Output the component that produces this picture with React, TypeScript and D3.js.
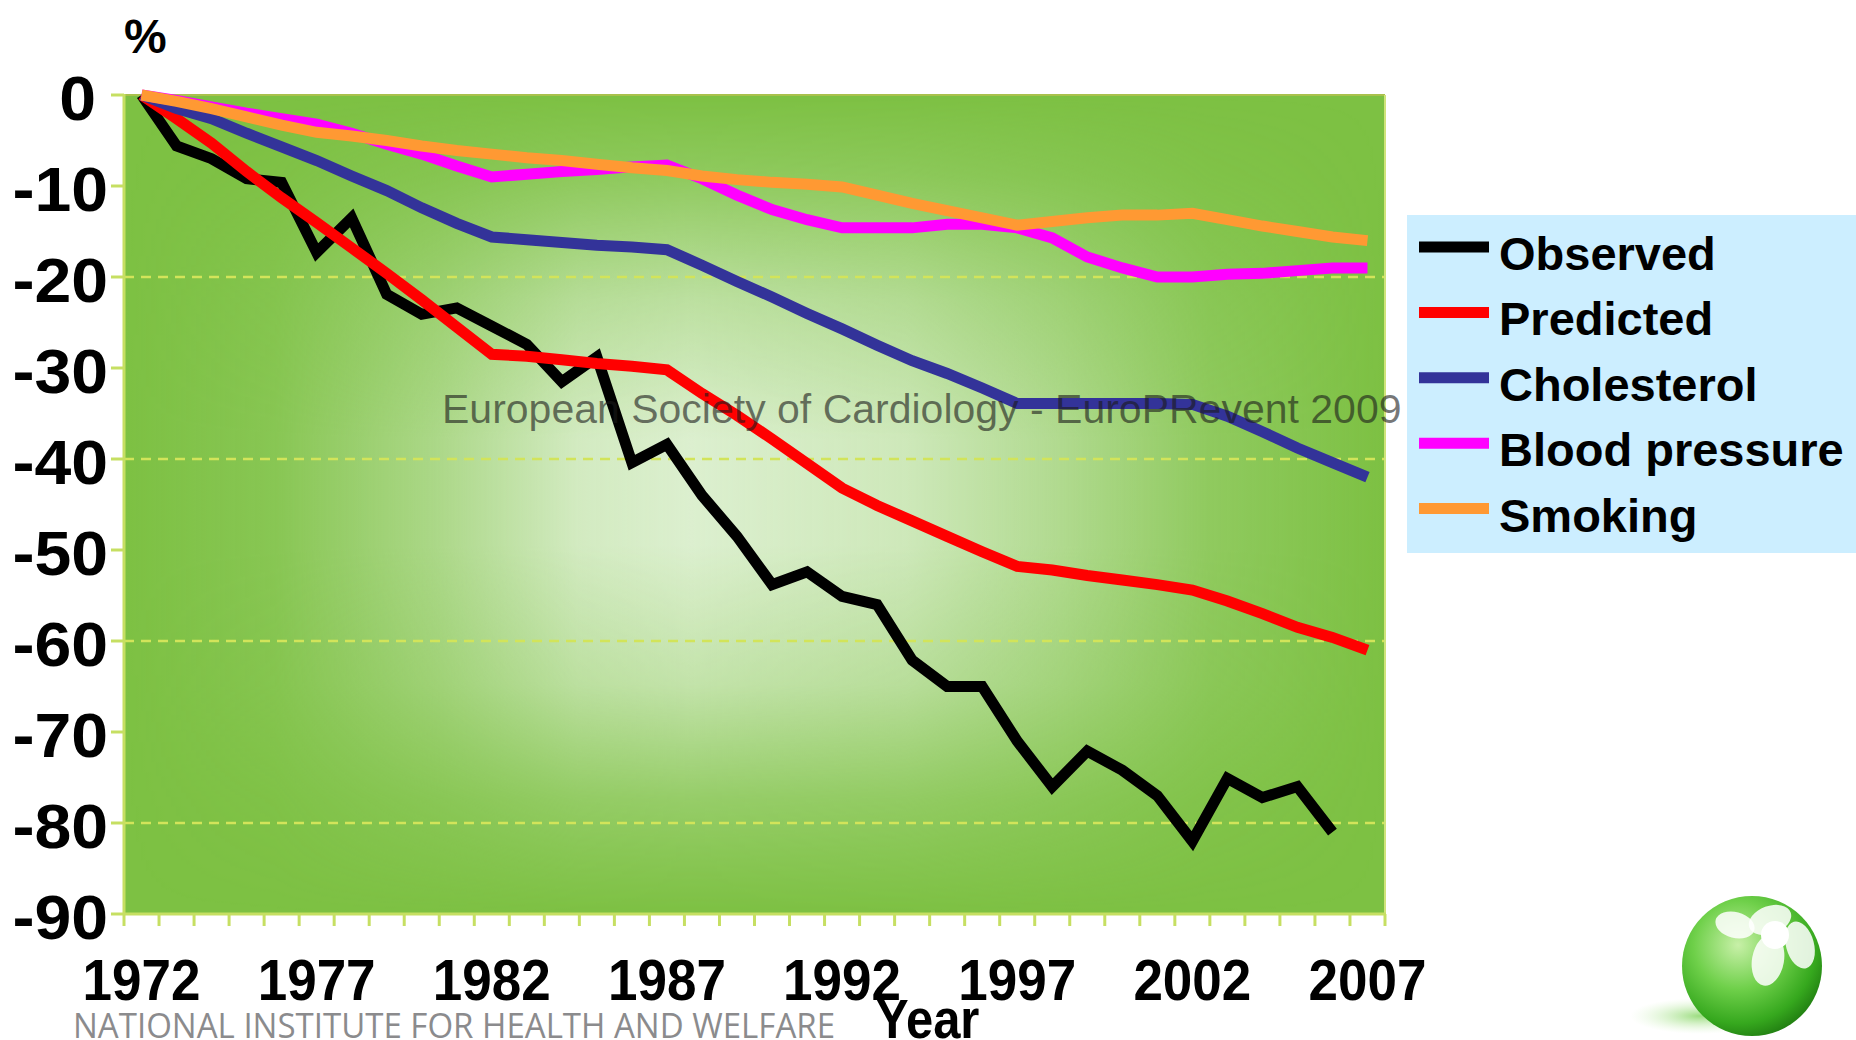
import React from "react";
import * as d3 from "d3";

const years: number[] = d3.range(1972, 2008);
const xTickYears: number[] = [1972, 1977, 1982, 1987, 1992, 1997, 2002, 2007];
const yTicks: number[] = [0, -10, -20, -30, -40, -50, -60, -70, -80, -90];
const gridTicks: number[] = [-20, -40, -60, -80];

const observed: (number | null)[] = [0, -5.6, -7.0, -9.2, -9.6, -17.3, -13.5, -21.9, -24.1, -23.4, -25.4, -27.4, -31.5, -28.8, -40.4, -38.4, -44.0, -48.5, -53.8, -52.4, -55.1, -56.0, -62.1, -65.0, -65.0, -71.0, -76.0, -72.1, -74.2, -77.0, -82.0, -75.1, -77.2, -76.0, -81.0, null];
const predicted: number[] = [0, -2.6, -5.3, -8.4, -11.3, -14.0, -16.8, -19.6, -22.5, -25.5, -28.5, -28.7, -29.1, -29.5, -29.8, -30.2, -32.8, -35.2, -37.8, -40.5, -43.2, -45.1, -46.8, -48.5, -50.2, -51.8, -52.2, -52.8, -53.3, -53.8, -54.4, -55.6, -57.0, -58.5, -59.6, -61.0];
const cholesterol: number[] = [0, -1.5, -2.6, -4.2, -5.7, -7.2, -8.9, -10.5, -12.4, -14.1, -15.6, -15.9, -16.2, -16.5, -16.7, -17.0, -18.7, -20.5, -22.2, -24.0, -25.7, -27.5, -29.2, -30.6, -32.2, -33.9, -33.9, -33.9, -33.9, -33.9, -34.0, -35.3, -37.0, -38.8, -40.4, -42.0];
const bloodPressure: number[] = [0, -0.6, -1.3, -2.0, -2.6, -3.2, -4.2, -5.4, -6.5, -7.8, -9.0, -8.7, -8.4, -8.2, -7.9, -7.7, -9.2, -11.0, -12.6, -13.7, -14.6, -14.6, -14.6, -14.2, -14.2, -14.6, -15.7, -17.8, -19.0, -20.0, -20.0, -19.7, -19.6, -19.3, -19.0, -19.0];
const smoking: number[] = [0, -0.7, -1.5, -2.4, -3.3, -4.1, -4.5, -5.0, -5.6, -6.1, -6.5, -6.9, -7.2, -7.6, -8.0, -8.3, -8.9, -9.3, -9.6, -9.8, -10.1, -11.0, -11.9, -12.7, -13.5, -14.3, -13.9, -13.5, -13.2, -13.2, -13.0, -13.7, -14.4, -15.0, -15.6, -16.0];

const seriesNames: string[] = ["Observed", "Predicted", "Cholesterol", "Blood pressure", "Smoking"];
const seriesColors: string[] = ["#000000", "#ff0000", "#333399", "#ff00ff", "#ff9933"];
const seriesValues: (number | null)[][] = [observed, predicted, cholesterol, bloodPressure, smoking];

const W = 1856;
const H = 1040;
const L = 124, R = 1385, T = 95, B = 914;
const FONT = "'Liberation Sans', Arial, Helvetica, sans-serif";

export default function App() {
  const x = d3.scalePoint<number>().domain(years).range([L, R]).padding(0.5);
  const y = d3.scaleLinear().domain([-90, 0]).range([B, T]);
  const step = x.step();
  const bounds = years.map((yr) => (x(yr) as number) - step / 2).concat([R]);

  const line = d3
    .line<number | null>()
    .defined((d) => d !== null)
    .x((_, i) => x(years[i]) as number)
    .y((d) => y(d as number));

  const axisColor = "#c6df62";

  return (
    <svg
      width={W}
      height={H}
      viewBox={`0 0 ${W} ${H}`}
      style={{ position: "absolute", left: 0, top: 0, background: "#ffffff" }}
    >
      <defs>
        <linearGradient id="hlight" x1="0" y1="0" x2="1" y2="0">
          <stop offset="0" stopColor="#dcefcf" stopOpacity="0" />
          <stop offset="0.12" stopColor="#dcefcf" stopOpacity="0.12" />
          <stop offset="0.25" stopColor="#dcefcf" stopOpacity="0.5" />
          <stop offset="0.36" stopColor="#dcefcf" stopOpacity="0.9" />
          <stop offset="0.45" stopColor="#dcefcf" stopOpacity="1" />
          <stop offset="0.62" stopColor="#dcefcf" stopOpacity="0.85" />
          <stop offset="0.74" stopColor="#dcefcf" stopOpacity="0.55" />
          <stop offset="0.86" stopColor="#dcefcf" stopOpacity="0.2" />
          <stop offset="1" stopColor="#dcefcf" stopOpacity="0" />
        </linearGradient>
        <linearGradient id="vmaskgrad" x1="0" y1="0" x2="0" y2="1">
          <stop offset="0" stopColor="#000" />
          <stop offset="0.1" stopColor="#333" />
          <stop offset="0.25" stopColor="#aaa" />
          <stop offset="0.42" stopColor="#fff" />
          <stop offset="0.55" stopColor="#fff" />
          <stop offset="0.72" stopColor="#bbb" />
          <stop offset="0.86" stopColor="#444" />
          <stop offset="1" stopColor="#000" />
        </linearGradient>
        <mask id="vmask" maskUnits="userSpaceOnUse" x={L} y={T} width={R - L} height={B - T}>
          <rect x={L} y={T} width={R - L} height={B - T} fill="url(#vmaskgrad)" />
        </mask>
        <radialGradient id="sphere" cx="0.4" cy="0.35" r="0.7">
          <stop offset="0" stopColor="#c8f0a8" />
          <stop offset="0.45" stopColor="#6fd04a" />
          <stop offset="0.8" stopColor="#36a81e" />
          <stop offset="1" stopColor="#1f7a10" />
        </radialGradient>
        <radialGradient id="shadow" cx="0.5" cy="0.5" r="0.5">
          <stop offset="0" stopColor="#8fd870" stopOpacity="0.9" />
          <stop offset="1" stopColor="#d8f5c8" stopOpacity="0" />
        </radialGradient>
      </defs>

      <rect x={0} y={0} width={W} height={H} fill="#ffffff" />

      {/* plot background */}
      <rect x={L} y={T} width={R - L} height={B - T} fill="#7dc143" />
      <rect x={L} y={T} width={R - L} height={B - T} fill="url(#hlight)" mask="url(#vmask)" />

      {/* gridlines */}
      {gridTicks.map((t) => (
        <line key={t} x1={L} x2={R} y1={y(t)} y2={y(t)} stroke="#d2e45a" strokeWidth={2.5} strokeDasharray="10,7" />
      ))}

      {/* borders */}
      <line x1={L} x2={R} y1={T} y2={T} stroke="#a9c14c" strokeWidth={2} />
      <line x1={R} x2={R} y1={T} y2={B} stroke="#cfe47a" strokeWidth={2} />
      <line x1={L} x2={L} y1={T - 1} y2={B + 1} stroke={axisColor} strokeWidth={3} />
      <line x1={L - 1} x2={R + 1} y1={B} y2={B} stroke={axisColor} strokeWidth={3} />

      {/* y ticks */}
      {yTicks.map((t) => (
        <g key={t}>
          <line x1={L - 13} x2={L} y1={y(t)} y2={y(t)} stroke={axisColor} strokeWidth={3} />
          <text
            transform={`translate(${t === 0 ? 96 : 108},${y(t) + 25}) scale(1.05,1)`}
            textAnchor="end"
            fontFamily={FONT}
            fontWeight="bold"
            fontSize={63}
            fill="#000"
          >
            {t}
          </text>
        </g>
      ))}

      {/* x ticks */}
      {bounds.map((bx, i) => (
        <line key={i} x1={bx} x2={bx} y1={B} y2={B + 12} stroke={axisColor} strokeWidth={3} />
      ))}
      {xTickYears.map((yr) => (
        <text
          key={yr}
          transform={`translate(${x(yr)},1000) scale(0.93,1)`}
          textAnchor="middle"
          fontFamily={FONT}
          fontWeight="bold"
          fontSize={57}
          fill="#000"
        >
          {yr}
        </text>
      ))}

      {/* series */}
      {seriesValues.map((vals, i) => (
        <path
          key={seriesNames[i]}
          d={line(vals) || ""}
          fill="none"
          stroke={seriesColors[i]}
          strokeWidth={11}
          strokeLinejoin="miter"
          strokeLinecap="butt"
        />
      ))}

      {/* watermark */}
      <text
        x={442}
        y={423}
        fontFamily={FONT}
        fontSize={41}
        fill="#1a1a1a"
        fillOpacity={0.6}
      >
        European Society of Cardiology - EuroPRevent 2009
      </text>

      {/* axis titles */}
      <text x={124} y={53} fontFamily={FONT} fontWeight="bold" fontSize={48} fill="#000">
        %
      </text>
      <text
        transform="translate(876,1038) scale(0.89,1)"
        fontFamily={FONT}
        fontWeight="bold"
        fontSize={55}
        fill="#000"
      >
        Year
      </text>

      {/* footer */}
      <text
        x={73}
        y={1038}
        fontFamily="'Open Sans', 'Noto Sans', sans-serif"
        fontSize={35}
        fill="#8b8b8d"
        textLength={762}
        lengthAdjust="spacingAndGlyphs"
      >
        NATIONAL INSTITUTE FOR HEALTH AND WELFARE
      </text>

      {/* legend */}
      <rect x={1407} y={215} width={W - 1407} height={338} fill="#cceeff" />
      {seriesNames.map((name, i) => {
        const cy = 247 + i * 65.4;
        return (
          <g key={name}>
            <line x1={1419} x2={1489} y1={cy} y2={cy} stroke={seriesColors[i]} strokeWidth={11} />
            <text x={1499} y={cy + 23} fontFamily={FONT} fontWeight="bold" fontSize={47} fill="#000">
              {name}
            </text>
          </g>
        );
      })}

      {/* logo */}
      <ellipse cx={1700} cy={1016} rx={70} ry={18} fill="url(#shadow)" />
      <circle cx={1752} cy={966} r={70} fill="url(#sphere)" />
      <g fill="#ffffff" fillOpacity={0.85}>
        <ellipse cx={1770} cy={920} rx={22} ry={14} transform="rotate(-20 1770 920)" />
        <ellipse cx={1800} cy={945} rx={14} ry={24} transform="rotate(-15 1800 945)" />
        <ellipse cx={1768} cy={960} rx={16} ry={26} transform="rotate(10 1768 960)" />
        <ellipse cx={1735} cy={925} rx={20} ry={13} transform="rotate(15 1735 925)" />
        <circle cx={1775} cy={935} r={14} fill="#ffffff" fillOpacity={1} />
      </g>
    </svg>
  );
}
